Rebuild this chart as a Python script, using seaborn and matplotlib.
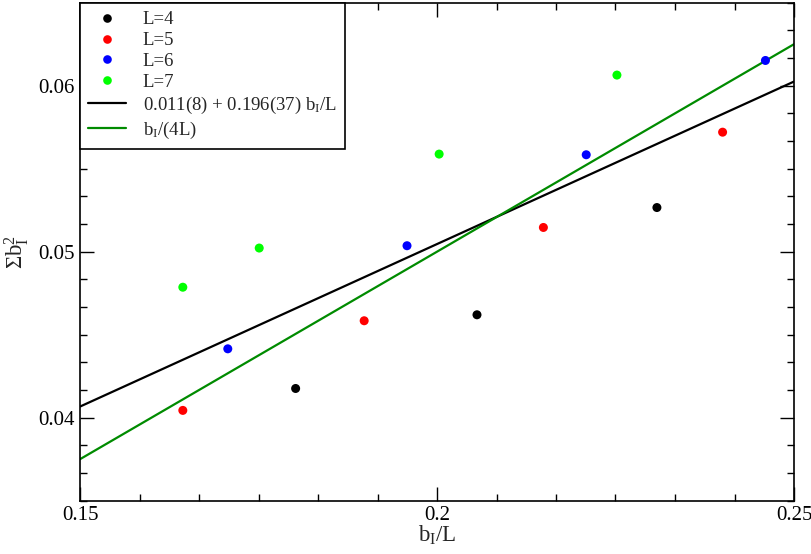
import pandas as pd
import matplotlib
matplotlib.use("Agg")
import matplotlib.pyplot as plt
import seaborn as sns
from matplotlib.ticker import MultipleLocator, FuncFormatter
from matplotlib.lines import Line2D

# data points (x = b_I/L, y = sum b_I^2)
L4_x = [0.1802, 0.2056, 0.2308]
L4_y = [0.04176, 0.04620, 0.05266]
L5_x = [0.1644, 0.1898, 0.2149, 0.2400]
L5_y = [0.04044, 0.04584, 0.05146, 0.05720]
L6_x = [0.1707, 0.1958, 0.2209, 0.2460]
L6_y = [0.04415, 0.05036, 0.05584, 0.06152]
L7_x = [0.1644, 0.1751, 0.2003, 0.2252]
L7_y = [0.04786, 0.05022, 0.05588, 0.06064]

# fit line a + b*x and the b_I/(4L) line
fit_a = 0.0113
fit_b = 0.1958
line_x = [0.15, 0.25]

series_names = ["L=4", "L=5", "L=6", "L=7"]
series_colors = {"L=4": "#000000", "L=5": "#ff0000", "L=6": "#0000ff", "L=7": "#00ff00"}
fit_label = r"0.011(8) + 0.196(37) $\mathregular{b_I}$/L"
quarter_label = r"$\mathregular{b_I}$/(4L)"

rows = []
for name, xs, ys in zip(series_names, [L4_x, L5_x, L6_x, L7_x], [L4_y, L5_y, L6_y, L7_y]):
    for xv, yv in zip(xs, ys):
        rows.append({"L": name, "x": xv, "y": yv})
df = pd.DataFrame(rows)

sns.set_style("ticks")
plt.rcParams["font.family"] = ["Liberation Serif", "DejaVu Serif"]
plt.rcParams["mathtext.fontset"] = "custom"
plt.rcParams["mathtext.rm"] = "Liberation Serif"
plt.rcParams["mathtext.it"] = "Liberation Serif:italic"
plt.rcParams["mathtext.bf"] = "Liberation Serif:bold"

fig = plt.figure(figsize=(8.12, 5.54), dpi=100)
ax = fig.add_axes([80 / 812, 1 - 500.7 / 554, (794 - 80) / 812, (500.7 - 2.7) / 554])

# lines first, points on top
fit_y = [fit_a + fit_b * v for v in line_x]
quarter_y = [v / 4 for v in line_x]
sns.lineplot(x=line_x, y=fit_y, color="black", lw=1.6, ax=ax, zorder=2)
sns.lineplot(x=line_x, y=quarter_y, color="#008b00", lw=1.6, ax=ax, zorder=2)

sns.scatterplot(data=df, x="x", y="y", hue="L", palette=series_colors,
                s=42, edgecolor="none", legend=False, ax=ax, zorder=3)

ax.set_xlim(0.15, 0.25)
ax.set_ylim(0.035, 0.065)
ax.xaxis.set_major_locator(MultipleLocator(0.05))
ax.xaxis.set_minor_locator(MultipleLocator(0.05 / 6))
ax.yaxis.set_major_locator(MultipleLocator(0.01))
ax.yaxis.set_minor_locator(MultipleLocator(0.01 / 6))
fmt = FuncFormatter(lambda v, p: f"{v:g}")
ax.xaxis.set_major_formatter(fmt)
ax.yaxis.set_major_formatter(fmt)

ax.tick_params(which="both", direction="in", top=True, right=True, width=1.0,
               labelsize=15, colors="black")
ax.tick_params(which="major", length=10, pad=4)
ax.tick_params(which="minor", length=5)
for sp in ax.spines.values():
    sp.set_linewidth(1.2)
    sp.set_color("black")

ax.set_xlabel(r"$\mathregular{b_I}$/L", fontsize=16.5, labelpad=-1)
ax.set_ylabel(r"$\mathregular{\Sigma b_I^2}$", fontsize=16.5, labelpad=5)

# legend in the top left corner
handles = [Line2D([], [], marker="o", ls="none", color=series_colors[n],
                  markersize=6.2, markeredgewidth=0) for n in series_names]
handles.append(Line2D([], [], color="black", lw=1.6))
handles.append(Line2D([], [], color="#008b00", lw=1.6))
labels = series_names + [fit_label, quarter_label]
leg = ax.legend(handles, labels, loc="upper left", borderaxespad=0, frameon=True,
                fancybox=False, edgecolor="black", framealpha=1, fontsize=13.5,
                handlelength=2.0, handletextpad=0.9, borderpad=0.45,
                labelspacing=0.2)
leg.get_frame().set_linewidth(1.2)

plt.savefig("out.png", dpi=100)
